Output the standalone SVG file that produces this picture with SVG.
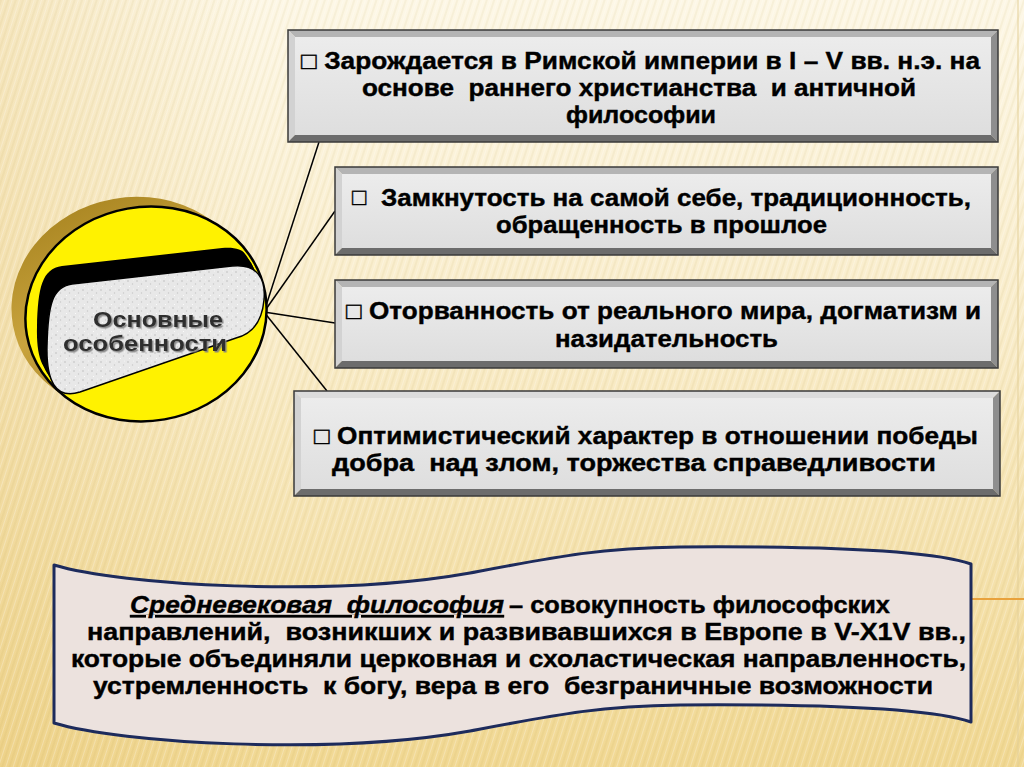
<svg xmlns="http://www.w3.org/2000/svg" width="1024" height="767" viewBox="0 0 1024 767">
  <defs>
    <linearGradient id="bg" x1="0" y1="0" x2="0" y2="1">
      <stop offset="0" stop-color="#fdf7e6"/>
      <stop offset="0.45" stop-color="#f9ecc9"/>
      <stop offset="1" stop-color="#f1d893"/>
    </linearGradient>
    <linearGradient id="bgLeft" x1="0" y1="0" x2="1" y2="0">
      <stop offset="0" stop-color="#e8c878" stop-opacity="0.35"/>
      <stop offset="0.25" stop-color="#e8c878" stop-opacity="0"/>
    </linearGradient>
    <pattern id="stripes" width="7" height="40" patternUnits="userSpaceOnUse" patternTransform="rotate(18)">
      <rect x="0" y="0" width="2" height="40" fill="#b08a30" opacity="0.07"/>
      <rect x="4" y="0" width="1" height="40" fill="#ffffff" opacity="0.25"/>
    </pattern>
    <linearGradient id="face" x1="0" y1="0" x2="0" y2="1">
      <stop offset="0" stop-color="#ececec"/>
      <stop offset="1" stop-color="#dedede"/>
    </linearGradient>
    <linearGradient id="brown" gradientUnits="userSpaceOnUse" x1="60" y1="190" x2="120" y2="420">
      <stop offset="0" stop-color="#a88420"/>
      <stop offset="0.5" stop-color="#c9a43e"/>
      <stop offset="1" stop-color="#9c7a22"/>
    </linearGradient>
    <pattern id="speckle" width="9" height="9" patternUnits="userSpaceOnUse">
      <rect width="9" height="9" fill="#e8e8e8"/>
      <circle cx="2" cy="2" r="0.8" fill="#bdbdbd"/>
      <circle cx="6.5" cy="5" r="0.7" fill="#c9c9c9"/>
      <circle cx="3.5" cy="7.5" r="0.6" fill="#ffffff"/>
      <circle cx="7.5" cy="1" r="0.6" fill="#f8f8f8"/>
    </pattern>
    <filter id="tshadow" x="-10%" y="-30%" width="120%" height="160%">
      <feDropShadow dx="1.5" dy="1.5" stdDeviation="0.6" flood-color="#808080" flood-opacity="0.9"/>
    </filter>
    <clipPath id="diskClip">
      <ellipse cx="146" cy="314" rx="118" ry="104" transform="rotate(-10 146 314)"/>
    </clipPath>
    <path id="pill" d="M 72,284 L 232,266 C 258,263 266,280 264,300 C 262,322 252,334 236,338 L 80,392 C 55,400 46,380 47,345 C 48,305 52,287 72,284 Z"/>
    <style>
      .t { font-family: "Liberation Sans", Arial, sans-serif; font-weight: bold; font-size: 24px; fill: #000; stroke: #000; stroke-width: 0.4; }
      .bt { stroke: #3a3a3a; stroke-width: 1.5; fill: none; }
      .bvT { fill: #b4b4b4; }
      .bvL { fill: #d2d2d2; }
      .bvR { fill: #8e8e8e; }
      .bvB { fill: #6c6c6c; }
      .conn { stroke: #000; stroke-width: 1.5; fill: none; }
      .lbl { font-family: "Liberation Sans", Arial, sans-serif; font-weight: bold; font-size: 22px; fill: #2e2e2e; }
    </style>
  </defs>

  <!-- background -->
  <rect width="1024" height="767" fill="url(#bg)"/>
  <rect width="1024" height="767" fill="url(#bgLeft)"/>
  <rect width="1024" height="767" fill="url(#stripes)"/>
  <line x1="1018" y1="0" x2="1018" y2="767" stroke="#e3cf98" stroke-width="1"/>
  <line x1="972" y1="599" x2="1024" y2="599" stroke="#e9a23c" stroke-width="2"/>

  <!-- connectors -->
  <g id="connectors">
    <line class="conn" x1="264" y1="312" x2="319" y2="142"/>
    <line class="conn" x1="264" y1="312" x2="335" y2="211"/>
    <line class="conn" x1="264" y1="312" x2="335" y2="323"/>
    <line class="conn" x1="264" y1="312" x2="327" y2="391"/>
  </g>

  <!-- central disk -->
  <g id="center">
    <g fill="url(#brown)" transform="rotate(-10 146 314)">
      <ellipse cx="134" cy="302" rx="121" ry="107"/>
      <ellipse cx="137" cy="305" rx="121" ry="107"/>
      <ellipse cx="140" cy="308" rx="121" ry="107"/>
      <ellipse cx="143" cy="311" rx="121" ry="107"/>
    </g>
    <ellipse cx="146" cy="314" rx="121" ry="107" transform="rotate(-10 146 314)" fill="#fff200" stroke="#000" stroke-width="2.5"/>
    <g clip-path="url(#diskClip)" fill="#000">
      <use href="#pill" transform="translate(-10,-18)"/>
      <use href="#pill" transform="translate(-7,-12)"/>
      <use href="#pill" transform="translate(-3.5,-6)"/>
    </g>
    <use href="#pill" fill="url(#speckle)" stroke="#000" stroke-width="1.5"/>
    <g filter="url(#tshadow)">
      <text class="lbl" x="158" y="327" text-anchor="middle" textLength="130" lengthAdjust="spacingAndGlyphs">Основные</text>
      <text class="lbl" x="145" y="351" text-anchor="middle" textLength="164" lengthAdjust="spacingAndGlyphs">особенности</text>
    </g>
  </g>

  <!-- box 1 -->
  <g id="box1">
    <polygon class="bvT" points="288,30 998,30 991,37 295,37"/>
    <polygon class="bvL" points="288,30 295,37 295,135 288,142"/>
    <polygon class="bvR" points="998,30 998,142 991,135 991,37"/>
    <polygon class="bvB" points="288,142 998,142 991,135 295,135"/>
    <rect x="295" y="37" width="696" height="98" fill="url(#face)"/>
    <rect class="bt" x="288" y="30" width="710" height="112"/>
    <text class="t" x="301" y="69" textLength="679" lengthAdjust="spacingAndGlyphs">□ Зарождается в Римской империи в I – V вв. н.э. на</text>
    <text class="t" x="362" y="96" textLength="554" lengthAdjust="spacingAndGlyphs" xml:space="preserve">основе  раннего христианства  и античной</text>
    <text class="t" x="566" y="123" textLength="150" lengthAdjust="spacingAndGlyphs">философии</text>
  </g>

  <!-- box 2 -->
  <g id="box2">
    <polygon class="bvT" points="335,167 998,167 991,174 342,174"/>
    <polygon class="bvL" points="335,167 342,174 342,248 335,255"/>
    <polygon class="bvR" points="998,167 998,255 991,248 991,174"/>
    <polygon class="bvB" points="335,255 998,255 991,248 342,248"/>
    <rect x="342" y="174" width="649" height="74" fill="url(#face)"/>
    <rect class="bt" x="335" y="167" width="663" height="88"/>
    <text class="t" x="352" y="205" font-size="16">□</text>
    <text class="t" x="381" y="206" textLength="590" lengthAdjust="spacingAndGlyphs">Замкнутость на самой себе, традиционность,</text>
    <text class="t" x="496" y="233" textLength="331" lengthAdjust="spacingAndGlyphs">обращенность в прошлое</text>
  </g>

  <!-- box 3 -->
  <g id="box3">
    <polygon class="bvT" points="335,280 998,280 991,287 342,287"/>
    <polygon class="bvL" points="335,280 342,287 342,361 335,368"/>
    <polygon class="bvR" points="998,280 998,368 991,361 991,287"/>
    <polygon class="bvB" points="335,368 998,368 991,361 342,361"/>
    <rect x="342" y="287" width="649" height="74" fill="url(#face)"/>
    <rect class="bt" x="335" y="280" width="663" height="88"/>
    <text class="t" x="346" y="319" textLength="635" lengthAdjust="spacingAndGlyphs">□ Оторванность от реального мира, догматизм и</text>
    <text class="t" x="555" y="347" textLength="223" lengthAdjust="spacingAndGlyphs">назидательность</text>
  </g>

  <!-- box 4 -->
  <g id="box4">
    <polygon class="bvT" points="294,391 1000,391 993,398 301,398" style="fill:#dcdcdc"/>
    <polygon class="bvL" points="294,391 301,398 301,489 294,496"/>
    <polygon class="bvR" points="1000,391 1000,496 993,489 993,398"/>
    <polygon class="bvB" points="294,496 1000,496 993,489 301,489"/>
    <rect x="301" y="398" width="692" height="91" fill="url(#face)"/>
    <rect class="bt" x="294" y="391" width="706" height="105"/>
    <text class="t" x="314" y="444" textLength="664" lengthAdjust="spacingAndGlyphs">□ Оптимистический характер в отношении победы</text>
    <text class="t" x="332" y="471" textLength="604" lengthAdjust="spacingAndGlyphs" xml:space="preserve">добра  над злом, торжества справедливости</text>
  </g>

  <!-- definition banner -->
  <g id="definition">
    <path d="M54,565 C120,585 330,598 470,573 C560,556 600,548 680,547 C820,546 930,550 971,564 L971,722 C930,708 820,704 680,705 C600,706 560,714 470,731 C330,756 120,743 54,723 Z" fill="#ece2de" stroke="#1d2b5c" stroke-width="3" stroke-linejoin="round"/>
    <text class="t" x="130" y="613" font-style="italic" text-decoration="underline" textLength="374" lengthAdjust="spacingAndGlyphs" xml:space="preserve">Средневековая  философия</text>
    <text class="t" x="509" y="613" textLength="381" lengthAdjust="spacingAndGlyphs">– совокупность философских</text>
    <text class="t" x="87" y="640" textLength="879" lengthAdjust="spacingAndGlyphs" xml:space="preserve">направлений,  возникших и развивавшихся в Европе в V-X1V вв.,</text>
    <text class="t" x="71" y="667" textLength="895" lengthAdjust="spacingAndGlyphs">которые объединяли церковная и схоластическая направленность,</text>
    <text class="t" x="93" y="694" textLength="840" lengthAdjust="spacingAndGlyphs" xml:space="preserve">устремленность  к богу, вера в его  безграничные возможности</text>
  </g>
</svg>
